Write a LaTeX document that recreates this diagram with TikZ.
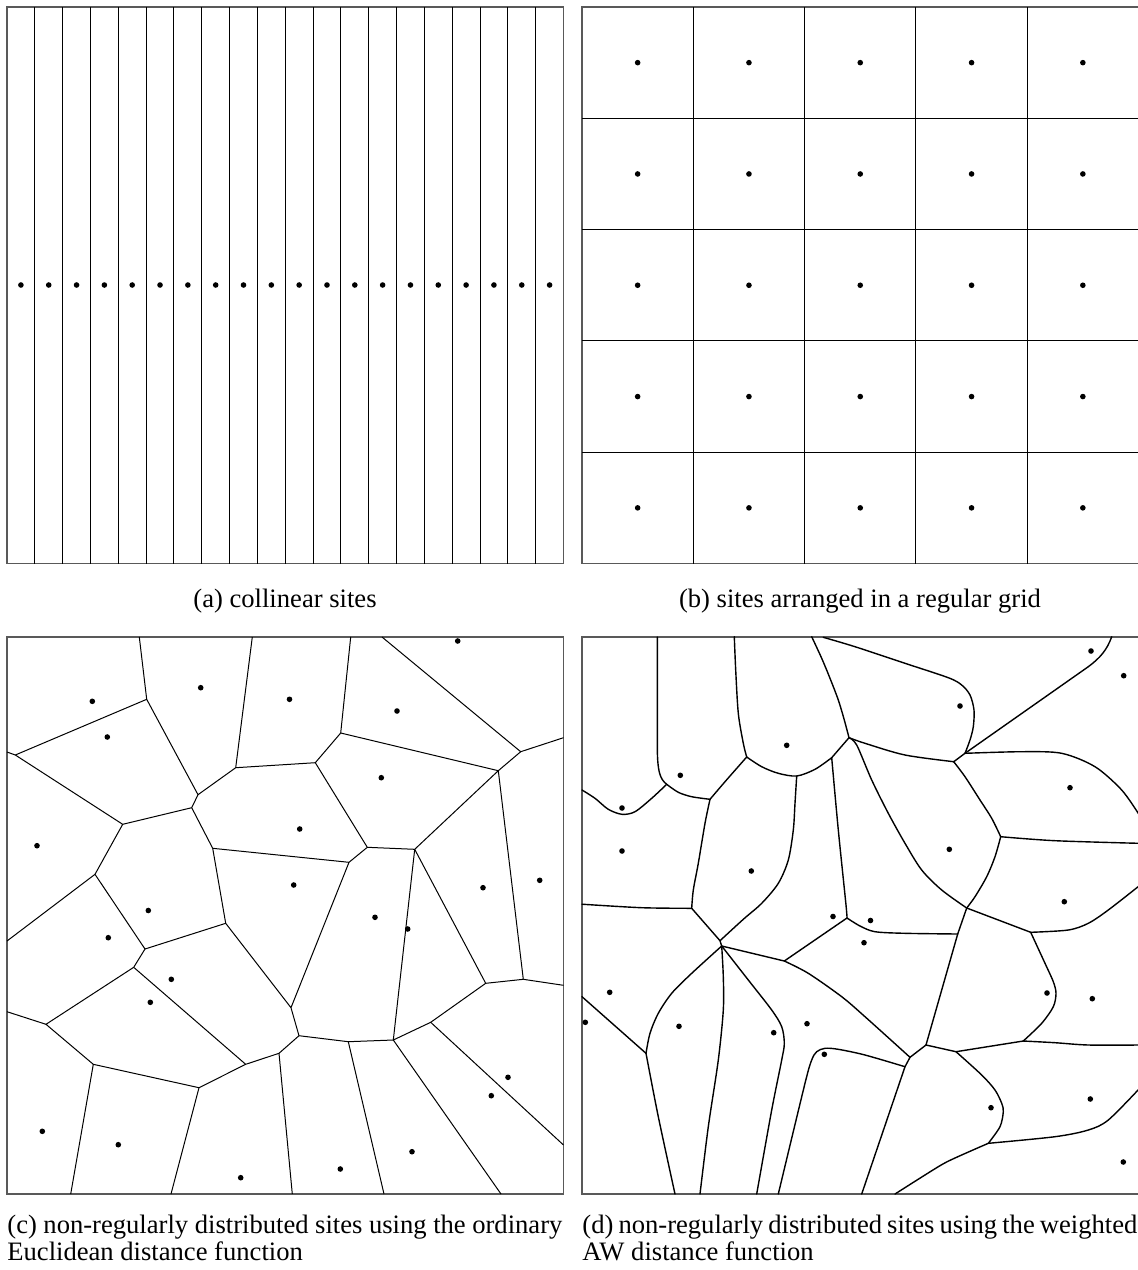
\documentclass[tikz,border=0pt]{standalone}
\usepackage{fontspec}
\setmainfont{Liberation Serif}
\begin{document}
\begin{tikzpicture}[x=0.5pt,y=-0.5pt,
  vor/.style={line width=0.5pt, line join=round},
  awl/.style={line width=0.7pt, line join=round, line cap=round},
  frm/.style={line width=0.6pt, draw=black!65},
  captxt/.style={inner sep=0pt, font=\fontsize{13.3pt}{13.5pt}\selectfont}]
\useasboundingbox (0,0) rectangle (1138,1270);
\fill[white] (0,0) rectangle (1138,1270);

% ---------------- (a) collinear sites
\draw[frm] (7,7) rectangle (563.5,563.5);
\foreach \k in {1,...,19} \draw[vor] ({7+27.825*\k},7) -- ({7+27.825*\k},563.5);
\foreach \k in {0,...,19} \fill ({7+13.91+27.825*\k},285) circle[radius=1.4pt];
\node[captxt, anchor=base] (capa) at (285,607) {(a)\ collinear sites};

% ---------------- (b) regular grid
\draw[frm] (582,7) rectangle (1139,563.5);
\foreach \k in {1,...,4} {
  \draw[vor] ({582+111.3*\k},7) -- ({582+111.3*\k},563.5);
  \draw[vor] (582,{7+111.3*\k}) -- (1139,{7+111.3*\k});
}
\foreach \i in {0,...,4} \foreach \j in {0,...,4}
  \fill ({582+55.65+111.3*\i},{7+55.65+111.3*\j}) circle[radius=1.4pt];
\node[captxt, anchor=base] (capb) at (860,607) {(b)\ sites arranged in a regular grid};

% ---------------- (c) Euclidean Voronoi
\draw[frm] (7,637) rectangle (563.5,1194);
\coordinate (c1) at (146.7,699.3);
\coordinate (c2) at (15.3,755);
\coordinate (c3) at (198,794.7);
\coordinate (c4) at (235.7,767.7);
\coordinate (c5) at (191.7,807.7);
\coordinate (c6) at (122.7,824.3);
\coordinate (c7) at (95,874.3);
\coordinate (c8) at (212.7,848.3);
\coordinate (c9) at (340.7,733);
\coordinate (c10) at (520.7,751.7);
\coordinate (c11) at (498.3,770.7);
\coordinate (c12) at (315.3,762.7);
\coordinate (c13) at (367.3,847.3);
\coordinate (c14) at (414.7,849.3);
\coordinate (c15) at (349,862.3);
\coordinate (c16) at (145,949);
\coordinate (c17) at (225.7,923.3);
\coordinate (c18) at (133.7,967.3);
\coordinate (c19) at (46,1024.3);
\coordinate (c20) at (93.3,1064.3);
\coordinate (c21) at (245.7,1064.3);
\coordinate (c22) at (199,1087.7);
\coordinate (c23) at (279,1053.3);
\coordinate (c24) at (291,1007.7);
\coordinate (c25) at (299,1035.7);
\coordinate (c26) at (348.3,1041.7);
\coordinate (c27) at (393.3,1040);
\coordinate (c28) at (430.7,1022.3);
\coordinate (c29) at (485.7,983.3);
\coordinate (c30) at (523.3,979.3);
\begin{scope}[vor]
\draw (139.3,637) -- (c1);
\draw (7,752) -- (c2);
\draw (c4) -- (252.3,637);
\draw (c7) -- (7,941);
\draw (350.7,637) -- (c9);
\draw (382,637) -- (c10);
\draw (c10) -- (563.5,737.7);
\draw (c19) -- (7,1011.7);
\draw (c23) -- (292.3,1194);
\draw (c20) -- (70.7,1194);
\draw (c22) -- (171,1194);
\draw (c26) -- (384,1194);
\draw (c30) -- (563.5,985.3);
\draw (c27) -- (501,1194);
\draw (c28) -- (563.5,1145);
\draw (c1)--(c2) (c1)--(c3) (c3)--(c4) (c4)--(c12) (c3)--(c5) (c5)--(c6)
      (c2)--(c6) (c6)--(c7) (c7)--(c16) (c5)--(c8) (c8)--(c15) (c8)--(c17)
      (c9)--(c11) (c10)--(c11) (c9)--(c12) (c12)--(c13) (c13)--(c14)
      (c11)--(c14) (c11)--(c30) (c13)--(c15) (c15)--(c24) (c14)--(c27)
      (c14)--(c29) (c16)--(c17) (c16)--(c18) (c18)--(c19) (c19)--(c20)
      (c18)--(c21) (c20)--(c22) (c22)--(c21) (c21)--(c23) (c17)--(c24)
      (c24)--(c25) (c25)--(c23) (c25)--(c26) (c26)--(c27) (c27)--(c28)
      (c28)--(c29) (c29)--(c30);
\end{scope}
\foreach \x/\y in {92.3/701.3, 107.3/737, 200.7/687.7, 289.5/699.3, 457.7/641,
  397/711, 381.3/777.7, 37/845.7, 299.7/829, 293.7/885, 483/887.7, 539.7/880.3,
  148.3/910.5, 375/917.3, 407.7/929, 108.3/937.7, 171.3/979.3, 150.3/1002.3,
  508/1077.3, 491.3/1095.7, 42.3/1131.3, 118.3/1144.7, 240.7/1177.7,
  412/1151.7, 340.3/1169}
  \fill (\x,\y) circle[radius=1.4pt];
\node[captxt, anchor=base west] (capc1) at (7,1233)
  {\makebox[277.5pt][s]{(c) non-regularly distributed sites using the ordinary}};
\node[captxt, anchor=base west] (capc2) at (7,1260) {Euclidean distance function};

% ---------------- (d) AW Voronoi
\draw[frm] (1139,637) -- (582,637) -- (582,1194) -- (1139,1194);
\coordinate (dA) at (666.7,784.3);
\coordinate (dB) at (710,799.3);
\coordinate (dC) at (746.7,757);
\coordinate (dG) at (796.7,776);
\coordinate (dE) at (831.7,757.7);
\coordinate (dD) at (849,737.7);
\coordinate (dF0) at (965,753.3);
\coordinate (dF) at (953.7,761.7);
\coordinate (dH) at (1000.7,836.7);
\coordinate (dI) at (966.7,908);
\coordinate (dJ) at (1030.7,932.3);
\coordinate (dK) at (1023.3,1041);
\coordinate (dL) at (926,1045);
\coordinate (dP) at (956,1051.7);
\coordinate (dM) at (910,1057.3);
\coordinate (dN) at (905,1066.7);
\coordinate (dQ) at (988.3,1143.3);
\coordinate (dW) at (691.7,908.3);
\coordinate (dR1) at (720,940.7);
\coordinate (dR2) at (721.7,946);
\coordinate (dS) at (784.3,961);
\coordinate (dT) at (847,918);
\coordinate (dU) at (646,1053.3);
\coordinate (dX) at (957.7,934);
\begin{scope}[awl]
\draw (657.3,637) -- (657.3,745) .. controls (657.3,772) and (660,779) .. (dA);
\draw plot[smooth] coordinates {(582,790) (595,798.3) (608.3,809.3) (622,814.3) (635,811.7) (651.7,798.3) (dA)};
\draw plot[smooth] coordinates {(dA) (678.3,792.3) (691.7,796.7) (dB)};
\draw plot[smooth] coordinates {(dB) (725,781.7) (dC)};
\draw plot[smooth] coordinates {(dC) (743.3,743.3) (738.3,713.3) (735.7,670) (734.3,636.7)};
\draw plot[smooth] coordinates {(dC) (761.7,766.7) (778.3,773.3) (dG) (815,769.3) (dE)};
\draw (dE) -- (dD);
\draw plot[smooth] coordinates {(dD) (844.3,720) (838.3,700) (830,678.3) (821.7,658.3) (811.7,636.7)};
\draw plot[smooth] coordinates {(823.3,637.3) (855,646.7) (905,663.3) (948.3,677.7) (961.7,685) (970,695) (974,710) (973.3,726.7) (970,740) (dF0)};
\draw plot[smooth] coordinates {(dD) (865,743.3) (905,755) (dF)};
\draw (dF) -- (dF0);
\draw (dF0) -- (1088.3,666.7) .. controls (1100,658) and (1107,650) .. (1111.7,636.7);
\draw plot[smooth] coordinates {(dF0) (1021.7,751.7) (1061.7,753.3) (1095,766.7) (1121.7,790) (1139,814.5)};
\draw plot[smooth] coordinates {(dF) (965,776.7) (980,800) (991.7,818.3) (dH)};
\draw plot[smooth] coordinates {(dH) (1055,840.7) (1139,843.3)};
\draw plot[smooth] coordinates {(dH) (995,856.7) (986.7,876.7) (975,896.7) (dI)};
\draw plot[smooth] coordinates {(dD) (856.7,745) (871.7,780) (888.3,813.3) (905,843.3) (921.7,870) (941.7,890) (dI)};
\draw (dI) -- (dX);
\draw (dI) -- (dJ);
\draw plot[smooth] coordinates {(dJ) (1068.3,930) (1088.3,923.3) (1108.3,910) (1139,886)};
\draw plot[smooth] coordinates {(dJ) (1045,963.3) (1053.3,981.7) (1056,993.3) (1053.3,1006.7) (1041.7,1023.3) (dK)};
\draw plot[smooth] coordinates {(dK) (1055,1042.7) (1088.3,1045) (1139,1045)};
\draw (dK) -- (dP) -- (dL);
\draw (dX) -- (dL);
\draw plot[smooth] coordinates {(dT) (860,926) (875,931.7) (905,933.3) (dX)};
\draw (dL) -- (dM) -- (dN);
\draw plot[smooth] coordinates {(dS) (808.3,973.3) (841.7,996.7) (865,1016.7) (dM)};
\draw plot[smooth, tension=0.5] coordinates {(dN) (865,1055) (838.3,1049.3) (825,1048.3) (816.7,1051.7) (811.7,1060) (805,1083.3) (778.3,1194)};
\draw (dN) -- (861.7,1194);
\draw plot[smooth] coordinates {(dP) (981.7,1075) (995,1090) (1001.7,1103.3) (1003.3,1111.7) (1000,1126.7) (dQ)};
\draw plot[smooth] coordinates {(dQ) (1055,1136.7) (1088.3,1130) (1108.3,1120) (1139,1089)};
\draw plot[smooth] coordinates {(dQ) (955,1158) (938.3,1166.7) (895,1194)};
\draw plot[smooth] coordinates {(dE) (838.3,830) (846,905) (dT)};
\draw (dT) -- (dS) -- (dR2) -- (dR1);
\draw (dR1) -- (dW);
\draw plot[smooth] coordinates {(dR1) (743.3,919.3) (761.7,903.3) (778.3,883.3) (788.3,860) (793.3,830) (795,803.3) (dG)};
\draw plot[smooth] coordinates {(dW) (693.3,890) (698.3,863.3) (705,823.3) (dB)};
\draw plot[smooth] coordinates {(582,904.2) (641.7,907.7) (dW)};
\draw plot[smooth] coordinates {(dR2) (691.7,973.3) (671.7,993.3) (658.3,1013.3) (650,1033.3) (dU)};
\draw (dU) -- (582,996.7);
\draw plot[smooth] coordinates {(dU) (658.3,1116.7) (675,1194)};
\draw plot[smooth] coordinates {(dR2) (723.3,976.7) (723.3,1010) (718.3,1060) (708.3,1126.7) (700,1194)};
\draw plot[smooth] coordinates {(dR2) (748.3,980) (771.7,1010) (781.7,1026.7) (784.3,1043.3) (781.7,1060) (771.7,1110) (756.7,1194)};
\end{scope}
\foreach \x/\y in {1091/651, 1123.7/675.7, 960/706, 1070/787.7, 949.3/849.3,
  1064.3/901.7, 870.5/920.5, 680.3/775.3, 622/808, 622/851, 786.7/745.3,
  751.3/871, 833/916.5, 864/942.7, 1047/993, 1092.3/998.7, 991/1107.7,
  1090.3/1099, 1123.3/1162, 609.7/992.3, 585.3/1022.3, 679/1026.3,
  773.7/1032.7, 807/1023.7, 824.3/1054.3}
  \fill (\x,\y) circle[radius=1.4pt];
\node[captxt, anchor=base west] (capd1) at (582,1233)
  {\makebox[277.5pt][s]{(d) non-regularly distributed sites using the weighted}};
\node[captxt, anchor=base west] (capd2) at (582,1260) {AW distance function};
\end{tikzpicture}
\end{document}
